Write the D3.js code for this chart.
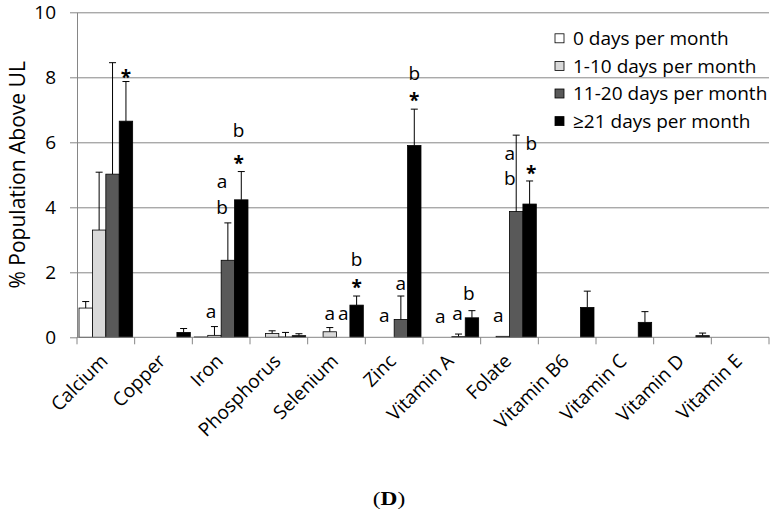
<!DOCTYPE html>
<html>
<head>
<meta charset="utf-8">
<script src="https://cdn.jsdelivr.net/npm/d3@7"></script>
<style>
  body { margin: 0; background: #fff; }
  svg { display: block; font-family: "Open Sans", sans-serif; }
</style>
</head>
<body>
<svg id="chart" width="780" height="516"></svg>
<script>
const categories = ["Calcium", "Copper", "Iron", "Phosphorus", "Selenium", "Zinc",
  "Vitamin A", "Folate", "Vitamin B6", "Vitamin C", "Vitamin D", "Vitamin E"];
const seriesNames = ["0 days per month", "1-10 days per month", "11-20 days per month", "≥21 days per month"];

// bar heights, % population above UL
const days0      = [0.9,  0,    0.01, 0,    0,    0,    0,    0,    0,    0,    0,    0];
const days1to10  = [3.3,  0,    0.06, 0.12, 0.17, 0,    0,    0.03, 0,    0,    0,    0];
const days11to20 = [5.02, 0,    2.37, 0.01, 0,    0.55, 0.02, 3.87, 0,    0,    0,    0];
const days21plus = [6.65, 0.15, 4.23, 0.05, 0.99, 5.9,  0.6,  4.1,  0.92, 0.46, 0.05, 0];

// upper error bar lengths
const err0      = [0.2,  0,    0,    0,    0,    0,    0,    0,    0,    0,    0,    0];
const err1to10  = [1.78, 0,    0.27, 0.08, 0.13, 0,    0,    0,    0,    0,    0,    0];
const err11to20 = [3.43, 0,    1.15, 0.14, 0,    0.72, 0.08, 2.35, 0,    0,    0,    0];
const err21plus = [1.22, 0.12, 0.87, 0.06, 0.28, 1.12, 0.22, 0.71, 0.5,  0.33, 0.08, 0];

// significance letters: category, slot (series position), height, text
const annoCategory = ["Calcium", "Iron", "Iron", "Iron", "Iron", "Iron",
  "Selenium", "Selenium", "Selenium", "Selenium", "Zinc", "Zinc", "Zinc", "Zinc",
  "Vitamin A", "Vitamin A", "Vitamin A", "Folate", "Folate", "Folate", "Folate", "Folate"];
const annoSlot  = [3, 0.74, 1.56, 1.56, 2.8, 2.8, 1, 2, 3, 3, 0.76, 2, 3, 3, 0.63, 1.93, 2.77, 0.66, 1.52, 1.52, 3.12, 3.12];
const annoValue = [8.16, 0.74, 4.0, 4.75, 5.5, 6.38, 0.69, 0.69, 1.71, 2.4, 0.63, 1.6, 7.45, 8.12, 0.59, 0.69, 1.37, 0.63, 4.9, 5.6, 5.2, 5.98];
const annoText  = ["*", "a", "b", "a", "*", "b", "a", "a", "*", "b", "a", "a", "*", "b", "a", "a", "b", "a", "b", "a", "*", "b"];

const yTicks = [0, 2, 4, 6, 8, 10];

const values = [days0, days1to10, days11to20, days21plus];
const errors = [err0, err1to10, err11to20, err21plus];
const fills = ["#ffffff", "#d9d9d9", "#595959", "#000000"];
const axisColor = "#868686";

const svg = d3.select("#chart");
const plotLeft = 77, plotRight = 769, plotTop = 12.3, plotBottom = 337.3;

const x0 = d3.scaleBand().domain(categories).range([plotLeft, plotRight]);
const x1 = d3.scaleBand().domain(d3.range(4)).range([0, x0.bandwidth()]).paddingOuter(0.15);
const y = d3.scaleLinear().domain([0, 10]).range([plotBottom, plotTop]);

// gridlines + y axis
const yAxis = svg.append("g")
  .attr("transform", `translate(${plotLeft},0)`)
  .call(d3.axisLeft(y).tickValues(yTicks).tickSizeInner(7).tickSizeOuter(0).tickPadding(14));
yAxis.select(".domain").attr("stroke", axisColor);
yAxis.selectAll(".tick line").attr("stroke", axisColor);
yAxis.selectAll(".tick text").attr("font-size", 19).attr("fill", "#000")
  .attr("font-family", "Open Sans");
yAxis.selectAll(".tick").filter(d => d > 0).append("line")
  .attr("x2", plotRight - plotLeft).attr("stroke", axisColor);

// bars
const groups = svg.append("g").selectAll("g")
  .data(categories)
  .join("g")
  .attr("transform", d => `translate(${x0(d)},0)`);

groups.selectAll("rect")
  .data((c, i) => values.map((v, s) => ({ s, v: v[i], e: errors[s][i] })))
  .join("rect")
  .attr("x", d => x1(d.s))
  .attr("width", x1.bandwidth())
  .attr("y", d => y(d.v))
  .attr("height", d => y(0) - y(d.v))
  .attr("fill", d => fills[d.s])
  .attr("stroke", "#000")
  .attr("stroke-width", 0.8);

// error bars (upper only)
const eb = groups.selectAll("g.err")
  .data((c, i) => values.map((v, s) => ({ s, v: v[i], e: errors[s][i] })).filter(d => d.e > 0))
  .join("g")
  .attr("class", "err")
  .attr("stroke", "#000")
  .attr("stroke-width", 1);
eb.append("line")
  .attr("x1", d => x1(d.s) + x1.bandwidth() / 2)
  .attr("x2", d => x1(d.s) + x1.bandwidth() / 2)
  .attr("y1", d => y(d.v))
  .attr("y2", d => y(d.v + d.e));
eb.append("line")
  .attr("x1", d => x1(d.s) + x1.bandwidth() / 2 - 3.5)
  .attr("x2", d => x1(d.s) + x1.bandwidth() / 2 + 3.5)
  .attr("y1", d => y(d.v + d.e))
  .attr("y2", d => y(d.v + d.e));

// x axis
svg.append("line")
  .attr("x1", plotLeft).attr("x2", plotRight)
  .attr("y1", plotBottom).attr("y2", plotBottom)
  .attr("stroke", axisColor);
svg.append("g").selectAll("line")
  .data(d3.range(categories.length + 1))
  .join("line")
  .attr("x1", i => plotLeft + i * x0.step())
  .attr("x2", i => plotLeft + i * x0.step())
  .attr("y1", plotBottom).attr("y2", plotBottom + 7)
  .attr("stroke", axisColor);

svg.append("g").selectAll("text")
  .data(categories)
  .join("text")
  .attr("transform", d => `translate(${x0(d) + x0.bandwidth() / 2 + 3},${plotBottom + 25}) rotate(-45)`)
  .attr("text-anchor", "end")
  .attr("font-size", 19)
  .text(d => d);

// annotations
const dyFor = { a: "0.27em", b: "0.36em", "*": "0.62em" };
svg.append("g").selectAll("text")
  .data(annoText.map((t, i) => ({ t, c: annoCategory[i], s: annoSlot[i], v: annoValue[i] })))
  .join("text")
  .attr("x", d => x0(d.c) + x1(0) + d.s * x1.step() + x1.bandwidth() / 2)
  .attr("y", d => y(d.v))
  .attr("dy", d => dyFor[d.t])
  .attr("text-anchor", "middle")
  .attr("font-size", 19)
  .attr("font-weight", d => d.t === "*" ? "bold" : "normal")
  .text(d => d.t);

// y title
svg.append("text")
  .attr("transform", `translate(25,${(plotTop + plotBottom) / 2}) rotate(-90)`)
  .attr("text-anchor", "middle")
  .attr("font-size", 21)
  .text("% Population Above UL");

// legend
const legend = svg.append("g").attr("transform", "translate(555,38.3)");
const rows = legend.selectAll("g")
  .data(seriesNames)
  .join("g")
  .attr("transform", (d, i) => `translate(0,${i * 27.6})`);
rows.append("rect")
  .attr("x", 0).attr("y", -4.5)
  .attr("width", 9).attr("height", 9)
  .attr("fill", (d, i) => fills[i])
  .attr("stroke", "#000").attr("stroke-width", 0.8);
rows.append("text")
  .attr("x", 18).attr("y", 0).attr("dy", "0.36em")
  .attr("font-size", 19)
  .text(d => d);

// panel label
svg.append("text")
  .attr("transform", "translate(389,505) scale(1.3,1)")
  .attr("text-anchor", "middle")
  .attr("font-family", "Liberation Serif")
  .attr("font-size", 18)
  .html("(<tspan font-weight='bold'>D</tspan>)");
</script>
</body>
</html>
